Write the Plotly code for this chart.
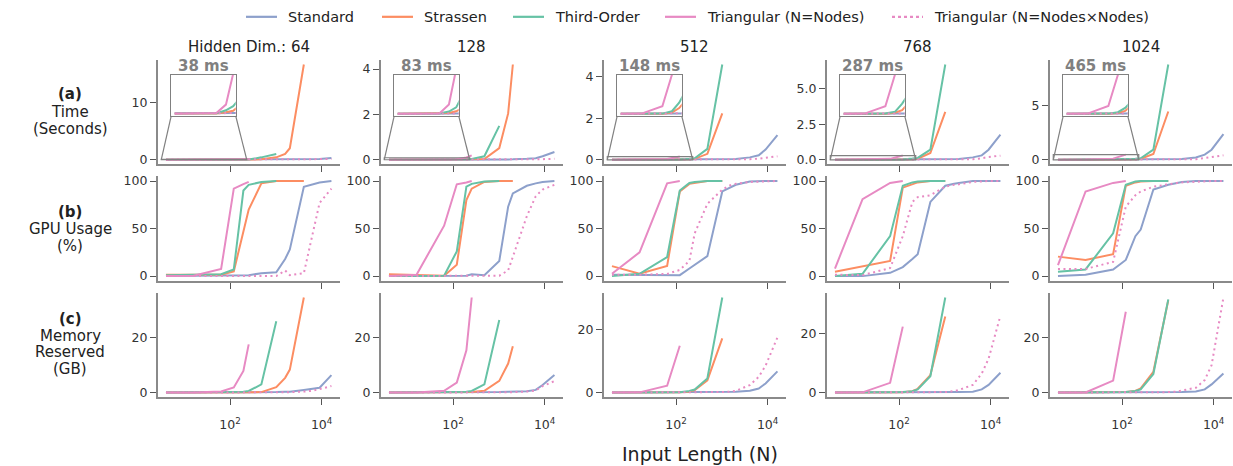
import math
import plotly.graph_objects as go

# ---------------- data ----------------
N_NODES = [4, 16, 64, 121, 196, 256]
N_INPUT = [4, 16, 64, 121, 196, 256, 484, 1024, 1600, 2025, 4096, 6400, 9025, 16384]
HIDDEN_DIMS = ["Hidden Dim.: 64", "128", "512", "768", "1024"]
SERIES_NAMES = ["Standard", "Strassen", "Third-Order", "Triangular (N=Nodes)", "Triangular (N=Nodes×Nodes)"]
ROW_LABELS = [["<b>(a)</b>", "Time", "(Seconds)"],
              ["<b>(b)</b>", "GPU Usage", "(%)"],
              ["<b>(c)</b>", "Memory", "Reserved", "(GB)"]]
INSET_TOP_MS = [38, 83, 148, 287, 465]
INSET_XLIM = [3.16, 232]
N = None

# Time (seconds), one list per hidden dim
TIME_STANDARD = [
    [0.0004, 0.0004, 0.0004, 0.0005, 0.0005, 0.0006, 0.001, 0.003, 0.006, 0.01, 0.03, 0.07, 0.13, 0.3],
    [0.0004, 0.0004, 0.0004, 0.0005, 0.0005, 0.0006, 0.001, 0.004, 0.008, 0.012, 0.035, 0.06, 0.15, 0.34],
    [0.0004, 0.0004, 0.0005, 0.0005, 0.0006, 0.0008, 0.002, 0.008, 0.018, 0.03, 0.11, 0.21, 0.49, 1.19],
    [0.0004, 0.0004, 0.0005, 0.0006, 0.0008, 0.001, 0.003, 0.012, 0.028, 0.05, 0.16, 0.3, 0.7, 1.76],
    [0.0004, 0.0005, 0.0006, 0.0007, 0.0009, 0.0012, 0.004, 0.016, 0.035, 0.06, 0.2, 0.46, 0.92, 2.36],
]
TIME_STRASSEN = [
    [0.0004, 0.0004, 0.0004, 0.0015, 0.003, 0.006, 0.05, 0.4, 1.0, 2.0, 16.7, N, N, N],
    [0.0004, 0.0004, 0.0005, 0.002, 0.0054, 0.01, 0.03, 0.51, 2.04, 4.2, N, N, N, N],
    [0.0004, 0.0005, 0.0008, 0.005, 0.022, 0.04, 0.28, 2.24, N, N, N, N, N, N],
    [0.0005, 0.0006, 0.001, 0.008, 0.027, 0.06, 0.47, 3.36, N, N, N, N, N, N],
    [0.0005, 0.0007, 0.0012, 0.01, 0.035, 0.08, 0.52, 4.45, N, N, N, N, N, N],
]
TIME_THIRD = [
    [0.0005, 0.0005, 0.0005, 0.0035, 0.0075, 0.012, 0.4, 1.0, N, N, N, N, N, N],
    [0.0005, 0.0005, 0.0006, 0.005, 0.0138, 0.03, 0.15, 1.49, N, N, N, N, N, N],
    [0.0005, 0.0006, 0.001, 0.01, 0.042, 0.07, 0.52, 4.6, N, N, N, N, N, N],
    [0.0005, 0.0007, 0.002, 0.015, 0.075, 0.12, 0.7, 6.7, N, N, N, N, N, N],
    [0.0006, 0.0008, 0.003, 0.02, 0.071, 0.12, 0.92, 8.8, N, N, N, N, N, N],
]
TIME_TRI_NODES = [
    [0.0003, 0.0003, 0.0008, 0.009, 0.039, 0.08],
    [0.0003, 0.0004, 0.001, 0.02, 0.095, 0.19],
    [0.0005, 0.001, 0.0287, 0.148, N, N],
    [0.001, 0.002, 0.0557, 0.287, N, N],
    [0.001, 0.003, 0.094, 0.465, N, N],
]
TIME_TRI_SQ = [
    [0.0003, 0.0003, 0.0003, 0.0003, 0.0003, 0.0004, 0.0005, 0.001, 0.002, 0.003, 0.01, 0.025, 0.05, 0.1],
    [0.0003, 0.0003, 0.0003, 0.0003, 0.0003, 0.0004, 0.0005, 0.001, 0.002, 0.003, 0.006, 0.01, 0.02, 0.04],
    [0.0003, 0.0003, 0.0003, 0.0003, 0.0004, 0.0005, 0.001, 0.003, 0.005, 0.008, 0.02, 0.05, 0.1, 0.16],
    [0.0003, 0.0003, 0.0003, 0.0004, 0.0005, 0.0006, 0.001, 0.004, 0.007, 0.01, 0.03, 0.1, 0.19, 0.28],
    [0.0003, 0.0003, 0.0004, 0.0005, 0.0006, 0.0007, 0.002, 0.005, 0.009, 0.014, 0.04, 0.15, 0.25, 0.4],
]

# GPU usage (%)
GPU_STANDARD = [
    [0, 0.3, 0.5, 0.5, 0.7, 1, 3, 4, 18, 28, 94, 97, 98.5, 100],
    [0, 0, 0, 0, 0.5, 2, 1, 16, 73, 87, 95, 97.5, 99, 100],
    [1.5, 1.2, 1, 1, 8, 12, 21, 89, 94, 96, 99.5, 100, 100, 100],
    [0, 0, 3.5, 9.5, 18, 23, 78, 95, 97, 98, 100, 100, 100, 100],
    [0, 1.5, 7, 17, 42, 49, 91, 96, 98, 99, 100, 100, 100, 100],
]
GPU_STRASSEN = [
    [1.5, 1.5, 1.5, 5, 45, 70, 97.5, 100, 100, 100, 100, N, N, N],
    [2, 1.5, 0.5, 12, 80, 92, 99, 100, 100, 100, N, N, N, N],
    [10.5, 2.5, 10.8, 89, 97, 98, 100, 100, N, N, N, N, N, N],
    [4.6, 10, 16, 93, 97, 98.5, 100, 100, N, N, N, N, N, N],
    [20.5, 17, 23, 95, 98.5, 99.5, 100, 100, N, N, N, N, N, N],
]
GPU_THIRD = [
    [1, 1.5, 2, 7, 90, 96, 99, 100, N, N, N, N, N, N],
    [0, 0, 0.5, 26, 94, 97, 99.5, 100, N, N, N, N, N, N],
    [0, 2.5, 20, 90, 98, 99, 100, 100, N, N, N, N, N, N],
    [0, 2.5, 42, 95, 98.5, 99.5, 100, 100, N, N, N, N, N, N],
    [4.5, 7, 45, 96, 99.5, 100, 100, 100, N, N, N, N, N, N],
]
GPU_TRI_NODES = [
    [0, 0.5, 7.5, 92, 96.7, 99],
    [0, 1.5, 53, 96.5, 98.5, 100],
    [2.5, 25, 97.5, 100, N, N],
    [8, 81, 98, 100, N, N],
    [11.5, 89, 98, 100, N, N],
]
GPU_TRI_SQ = [
    [0, 0, 0, 0, 0, 0, 0, 0, 6, 1, 3, 45, 77, 92],
    [0, 0, 0, 0, 0, 0, 0, 0.5, 6, 20, 63, 84, 91, 96],
    [1.5, 1.5, 2.3, 6.5, 16, 45, 76, 91, 96, 97, 99, 99.5, 100, 100],
    [1.5, 1, 8.5, 42, 78, 83, 85, 94, 96, 96.5, 99, 100, 100, 100],
    [7.5, 7.5, 15, 73, 85, 89, 94, 97, 98, 98.5, 99.5, 100, 100, 100],
]

# Memory reserved (GB)
MEM_STANDARD = [
    [0.02, 0.02, 0.03, 0.04, 0.05, 0.06, 0.1, 0.2, 0.3, 0.35, 1.0, 1.4, 1.8, 6.4],
    [0.02, 0.02, 0.03, 0.04, 0.05, 0.06, 0.1, 0.2, 0.3, 0.35, 0.5, 1.0, 2.8, 6.4],
    [0.02, 0.02, 0.03, 0.04, 0.05, 0.06, 0.1, 0.15, 0.2, 0.25, 0.6, 1.3, 2.9, 6.7],
    [0.02, 0.02, 0.03, 0.04, 0.05, 0.06, 0.08, 0.12, 0.15, 0.2, 0.3, 1.1, 2.6, 6.7],
    [0.02, 0.02, 0.03, 0.04, 0.05, 0.06, 0.08, 0.12, 0.15, 0.2, 0.4, 1.2, 3.0, 7.0],
]
MEM_STRASSEN = [
    [0.05, 0.05, 0.05, 0.06, 0.08, 0.1, 0.2, 2.0, 5.4, 8.4, 34.7, N, N, N],
    [0.05, 0.05, 0.05, 0.08, 0.12, 0.2, 0.7, 4.3, 10.6, 16.9, N, N, N, N],
    [0.05, 0.05, 0.06, 0.1, 0.3, 0.8, 3.9, 17.1, N, N, N, N, N, N],
    [0.05, 0.05, 0.07, 0.15, 0.5, 1.3, 5.9, 25.6, N, N, N, N, N, N],
    [0.05, 0.05, 0.08, 0.2, 0.6, 1.6, 7.6, 33.7, N, N, N, N, N, N],
]
MEM_THIRD = [
    [0.05, 0.05, 0.05, 0.1, 0.3, 0.6, 3.0, 26.0, N, N, N, N, N, N],
    [0.05, 0.05, 0.05, 0.1, 0.3, 0.6, 3.0, 26.5, N, N, N, N, N, N],
    [0.05, 0.05, 0.06, 0.15, 0.5, 1.0, 4.5, 30.0, N, N, N, N, N, N],
    [0.05, 0.05, 0.07, 0.2, 0.5, 1.1, 5.5, 32.0, N, N, N, N, N, N],
    [0.05, 0.05, 0.08, 0.2, 0.6, 1.2, 6.8, 34.0, N, N, N, N, N, N],
]
MEM_TRI_NODES = [
    [0.02, 0.03, 0.4, 1.9, 7.9, 17.6],
    [0.02, 0.05, 0.7, 3.7, 15.4, 34.7],
    [0.02, 0.1, 2.2, 14.8, N, N],
    [0.02, 0.1, 3.3, 22.2, N, N],
    [0.02, 0.1, 4.4, 29.5, N, N],
]
MEM_TRI_SQ = [
    [0.02, 0.02, 0.02, 0.03, 0.03, 0.04, 0.05, 0.08, 0.12, 0.15, 0.4, 0.7, 1.3, 2.4],
    [0.02, 0.02, 0.02, 0.03, 0.03, 0.04, 0.05, 0.08, 0.12, 0.15, 0.4, 0.8, 2.4, 4.2],
    [0.02, 0.02, 0.02, 0.03, 0.04, 0.05, 0.1, 0.2, 0.3, 0.6, 2.4, 5.0, 8.5, 17.4],
    [0.02, 0.02, 0.02, 0.03, 0.04, 0.05, 0.1, 0.2, 0.5, 0.9, 2.6, 6.4, 11.4, 25.9],
    [0.02, 0.02, 0.02, 0.03, 0.04, 0.05, 0.1, 0.2, 0.4, 0.7, 1.8, 4.6, 10.0, 34.7],
]

Y_TICKS = [
    [[0, 10], [0, 2, 4], [0, 2, 4], [0, 2.5, 5], [0, 5]],
    [[0, 50, 100]] * 5,
    [[0, 20]] * 5,
]
Y_TICKTEXT = [
    [["0", "10"], ["0", "2", "4"], ["0", "2", "4"], ["0.0", "2.5", "5.0"], ["0", "5"]],
    [["0", "50", "100"]] * 5,
    [["0", "20"]] * 5,
]
X_TICKVALS = [100, 10000]
X_TICKTEXT = ["10<sup>2</sup>", "10<sup>4</sup>"]

# ---------------- style / layout ----------------
COLORS = ["#8da0cb", "#fc8d62", "#66c2a5", "#e78ac3", "#e78ac3"]
DASHES = ["solid", "solid", "solid", "solid", "2px,3.5px"]
W, H = 1233, 466
COL_LEFT = [157.7 + 223 * c for c in range(5)]
PANEL_W = 182
ROW_TOP = [57.5, 175.5, 293.5]
PANEL_H = 106
INSET_DX, INSET_W = 13.5, 64.5
INSET_TOP, INSET_BOTTOM = 72.7, 114.3
ROW_LABEL_Y = [[92, 110, 128], [212, 229, 246], [320, 337, 354, 371]]
SPINE = "#8a8a8a"
TICKC = "#555555"
TXT = "#333333"
FONT = "DejaVu Sans"


def fx(px):
    return px / W


def fy(py):
    return 1 - py / H


ROWS = [
    [TIME_STANDARD, TIME_STRASSEN, TIME_THIRD, TIME_TRI_NODES, TIME_TRI_SQ],
    [GPU_STANDARD, GPU_STRASSEN, GPU_THIRD, GPU_TRI_NODES, GPU_TRI_SQ],
    [MEM_STANDARD, MEM_STRASSEN, MEM_THIRD, MEM_TRI_NODES, MEM_TRI_SQ],
]
XS = [N_INPUT, N_INPUT, N_INPUT, N_NODES, N_INPUT]

lx0, lx1 = math.log10(min(N_INPUT)), math.log10(max(N_INPUT))
XR = [lx0 - 0.05 * (lx1 - lx0), lx1 + 0.05 * (lx1 - lx0)]

fig = go.Figure()
layout = dict(width=W, height=H, margin=dict(l=0, r=0, t=0, b=0),
              paper_bgcolor="white", plot_bgcolor="white", showlegend=False,
              font=dict(family=FONT, color=TXT, size=12))
shapes, annotations = [], []

panel_yr = {}
for r in range(3):
    for c in range(5):
        k = r * 5 + c + 1
        sfx = "" if k == 1 else str(k)
        vals = [v for s in range(5) for v in ROWS[r][s][c] if v is not None]
        lo, hi = min(vals), max(vals)
        yr = [lo - 0.05 * (hi - lo), hi + 0.05 * (hi - lo)]
        panel_yr[(r, c)] = yr
        for s in range(5):
            fig.add_trace(go.Scatter(
                x=XS[s], y=ROWS[r][s][c], mode="lines", name=SERIES_NAMES[s],
                line=dict(color=COLORS[s], width=2, dash=DASHES[s]),
                xaxis="x" + sfx, yaxis="y" + sfx, showlegend=False, hoverinfo="skip"))
        L, T = COL_LEFT[c], ROW_TOP[r]
        layout["xaxis" + sfx] = dict(
            domain=[fx(L), fx(L + PANEL_W)], anchor="y" + sfx, type="log", range=XR,
            showline=True, linecolor=SPINE, linewidth=1.5, ticks="outside", ticklen=6,
            tickwidth=1.3, tickcolor=TICKC, tickvals=X_TICKVALS, ticktext=X_TICKTEXT,
            showticklabels=(r == 2), ticklabelstandoff=9, showgrid=False, zeroline=False,
            tickfont=dict(size=12.5, color=TXT))
        layout["yaxis" + sfx] = dict(
            domain=[fy(T + PANEL_H), fy(T)], anchor="x" + sfx, range=yr,
            showline=True, linecolor=SPINE, linewidth=1.5, ticks="outside", ticklen=6,
            tickwidth=1.3, tickcolor=TICKC, tickvals=Y_TICKS[r][c], ticktext=Y_TICKTEXT[r][c],
            showgrid=False, zeroline=False, tickfont=dict(size=12.5, color=TXT))

# insets (time, zoomed)
ixr = [math.log10(INSET_XLIM[0]), math.log10(INSET_XLIM[1])]
for c in range(5):
    k = 16 + c
    sfx = str(k)
    top = INSET_TOP_MS[c] / 1000.0
    iyr = [-0.05 * top, top]
    for s in range(5):
        fig.add_trace(go.Scatter(
            x=XS[s], y=ROWS[0][s][c], mode="lines", name=SERIES_NAMES[s],
            line=dict(color=COLORS[s], width=2, dash=DASHES[s]),
            xaxis="x" + sfx, yaxis="y" + sfx, showlegend=False, hoverinfo="skip"))
    L = COL_LEFT[c]
    ix0, ix1 = L + INSET_DX, L + INSET_DX + INSET_W
    layout["xaxis" + sfx] = dict(domain=[fx(ix0), fx(ix1)], anchor="y" + sfx, type="log",
                                 range=ixr, showline=True, mirror=True, linecolor="#808080",
                                 linewidth=1.3, showticklabels=False, ticks="", tickvals=[],
                                 showgrid=False, zeroline=False)
    layout["yaxis" + sfx] = dict(domain=[fy(INSET_BOTTOM), fy(INSET_TOP)], anchor="x" + sfx,
                                 range=iyr, showline=True, mirror=True, linecolor="#808080",
                                 linewidth=1.3, showticklabels=False, ticks="", tickvals=[],
                                 showgrid=False, zeroline=False)
    annotations.append(dict(text="<b>%d ms</b>" % INSET_TOP_MS[c], x=fx((ix0 + ix1) / 2),
                            y=fy(64), xref="paper", yref="paper", showarrow=False,
                            font=dict(size=15, color="#808080", family=FONT),
                            xanchor="center", yanchor="middle"))
    # source rectangle in main panel (computed from main axis ranges)
    yr = panel_yr[(0, c)]

    def mx(v):
        return L + (math.log10(v) - XR[0]) / (XR[1] - XR[0]) * PANEL_W

    def my(v):
        return ROW_TOP[0] + PANEL_H - (v - yr[0]) / (yr[1] - yr[0]) * PANEL_H

    rx0, rx1 = mx(INSET_XLIM[0]), mx(INSET_XLIM[1])
    ry0, ry1 = my(iyr[0]), my(iyr[1])
    shapes.append(dict(type="rect", xref="paper", yref="paper", x0=fx(rx0), x1=fx(rx1),
                       y0=fy(ry0), y1=fy(ry1), line=dict(color="#808080", width=1.2)))
    shapes.append(dict(type="line", xref="paper", yref="paper", x0=fx(ix0), y0=fy(INSET_BOTTOM),
                       x1=fx(rx0), y1=fy(ry0), line=dict(color="#808080", width=1.2)))
    shapes.append(dict(type="line", xref="paper", yref="paper", x0=fx(ix1), y0=fy(INSET_BOTTOM),
                       x1=fx(rx1), y1=fy(ry0), line=dict(color="#808080", width=1.2)))

# column titles
for c in range(5):
    annotations.append(dict(text=HIDDEN_DIMS[c], x=fx(COL_LEFT[c] + PANEL_W / 2), y=fy(45),
                            xref="paper", yref="paper", showarrow=False,
                            font=dict(size=15, color="#222222"), xanchor="center", yanchor="middle"))
# row labels (one annotation per line)
for r in range(3):
    for line_text, ly in zip(ROW_LABELS[r], ROW_LABEL_Y[r]):
        annotations.append(dict(text=line_text, x=fx(70), y=fy(ly),
                                xref="paper", yref="paper", showarrow=False,
                                font=dict(size=15, color="#222222"),
                                xanchor="center", yanchor="middle"))
# x title
annotations.append(dict(text="Input Length (N)", x=fx(700), y=fy(457), xref="paper", yref="paper",
                        showarrow=False, font=dict(size=19, color="#222222"),
                        xanchor="center", yanchor="middle"))

# manual legend
LEG_X = [246, 382, 513, 665, 892]
LEG_Y = 14
for s in range(5):
    x0 = LEG_X[s]
    shapes.append(dict(type="line", xref="paper", yref="paper", x0=fx(x0), x1=fx(x0 + 31),
                       y0=fy(LEG_Y), y1=fy(LEG_Y),
                       line=dict(color=COLORS[s], width=2.2,
                                 dash=("solid" if s < 4 else "dot"))))
    annotations.append(dict(text=SERIES_NAMES[s], x=fx(x0 + 40), y=fy(LEG_Y), xref="paper",
                            yref="paper", showarrow=False, font=dict(size=14.5, color="#222222"),
                            xanchor="left", yanchor="middle"))

layout["shapes"] = shapes
layout["annotations"] = annotations
fig.update_layout(**layout)
fig.write_html("out.html", config={"displayModeBar": False},
               post_script="document.body.style.margin='0px';document.body.style.overflow='hidden';")
